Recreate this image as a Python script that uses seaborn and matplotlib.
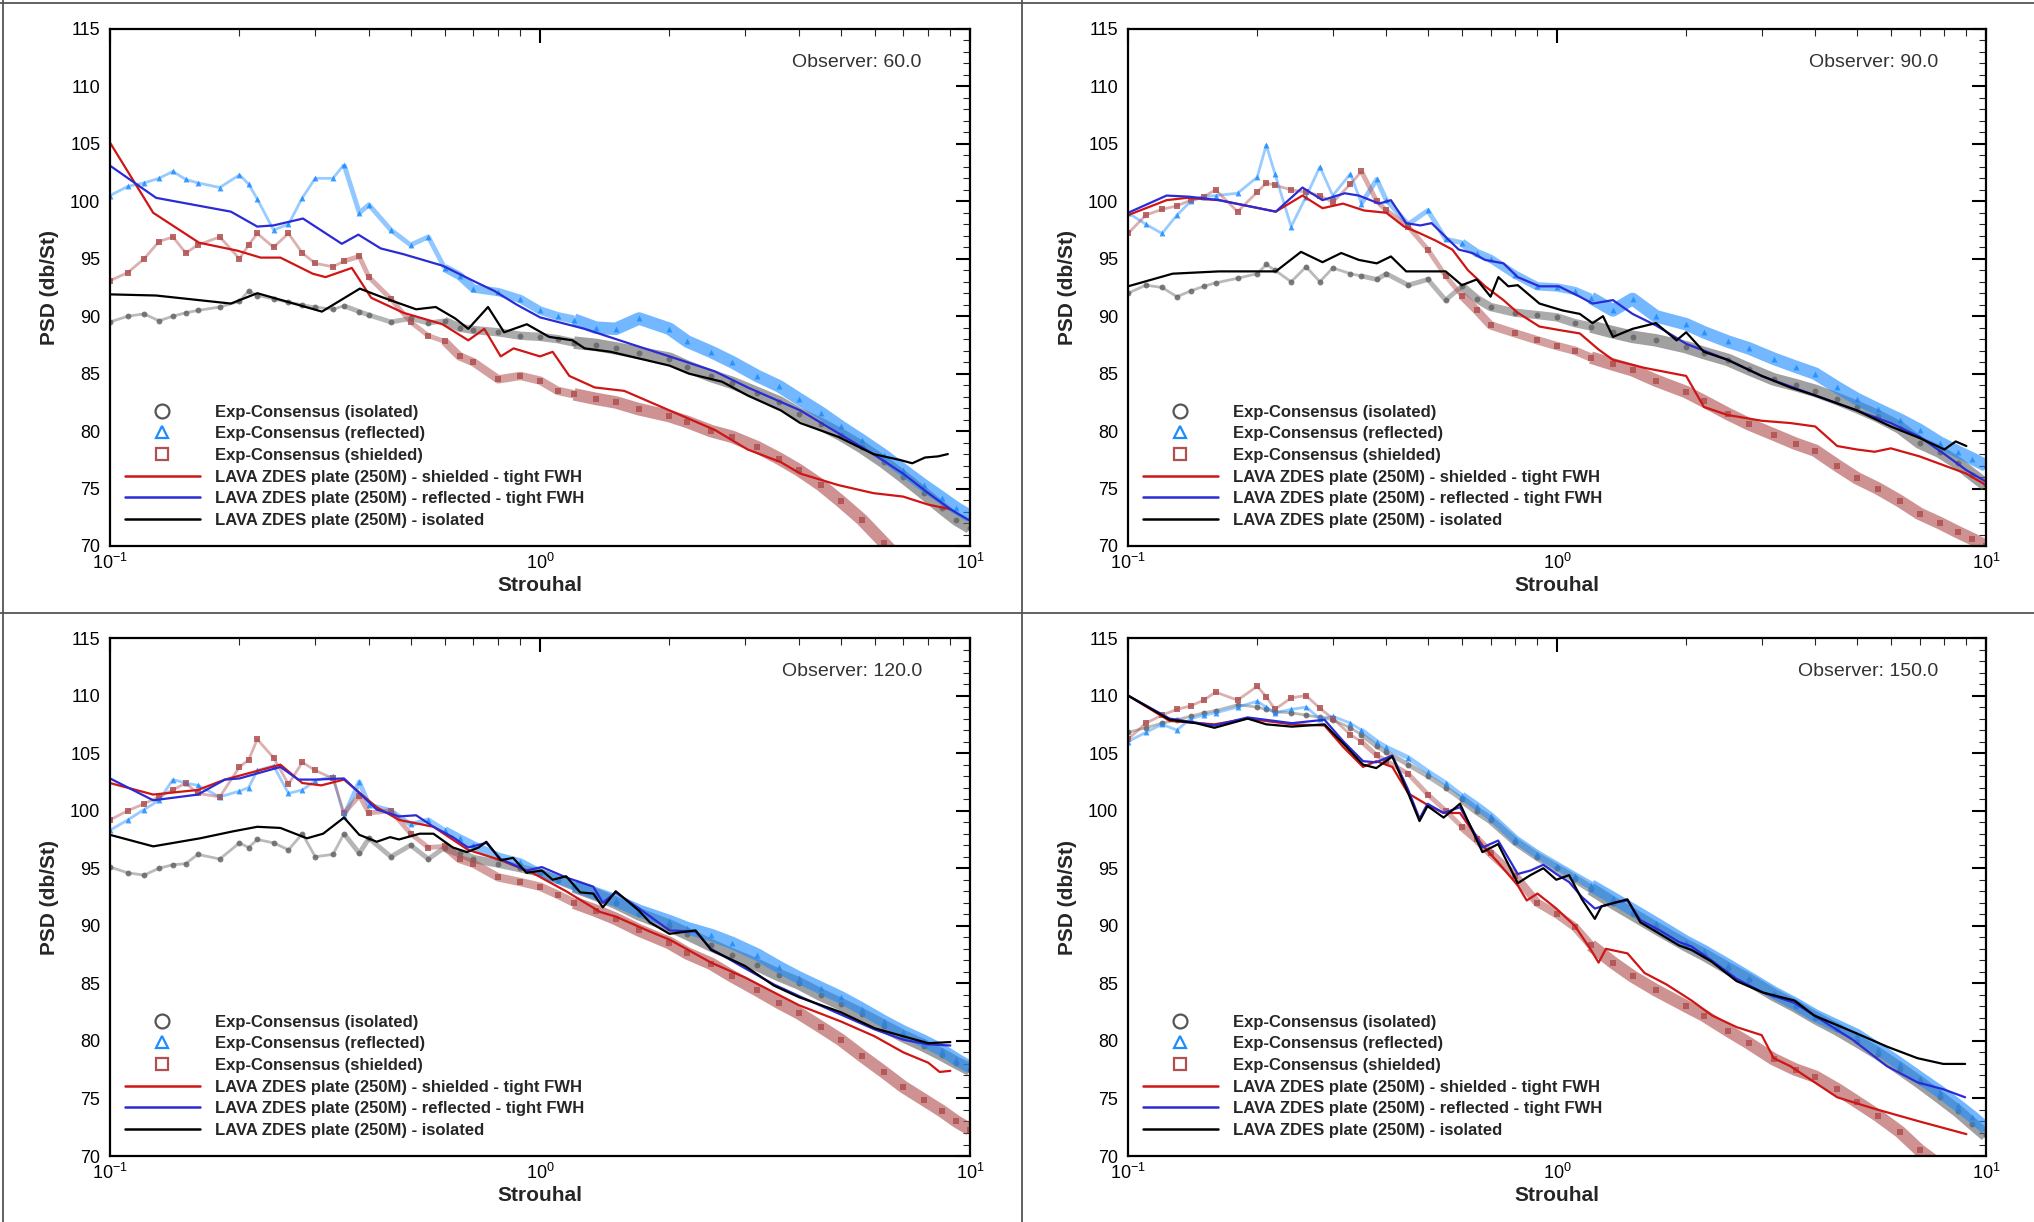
import matplotlib
matplotlib.use("Agg")
import matplotlib.pyplot as plt
import matplotlib.ticker as mticker
from matplotlib.lines import Line2D
import seaborn as sns

# -----------------------------
# 1. Data
# -----------------------------
# common Strouhal grid for the experimental consensus curves
EXP_ST = [0.10, 0.11, 0.12, 0.13, 0.14, 0.15, 0.16, 0.18, 0.20, 0.21,
          0.22, 0.24, 0.26, 0.28, 0.30, 0.33, 0.35, 0.38, 0.40, 0.45,
          0.50, 0.55, 0.60, 0.65, 0.70, 0.80, 0.90, 1.0, 1.1, 1.2,
          1.35, 1.5, 1.7, 2.0, 2.2, 2.5, 2.8, 3.2, 3.6, 4.0,
          4.5, 5.0, 5.6, 6.3, 7.0, 7.8, 8.6, 9.3, 10.0]

# Observer 60
EXP60_ISO = [89.5, 90.0, 90.2, 89.6, 90.0, 90.3, 90.5, 90.8, 91.3, 92.2,
             91.8, 91.5, 91.2, 91.0, 90.8, 90.6, 90.9, 90.4, 90.1, 89.5,
             89.8, 89.4, 89.6, 89.0, 88.8, 88.6, 88.3, 88.2, 88.0, 87.7,
             87.5, 87.2, 86.8, 86.3, 85.6, 84.8, 84.2, 83.3, 82.5, 81.5,
             80.6, 79.7, 78.6, 77.3, 76.0, 74.6, 73.3, 72.3, 71.6]
EXP60_REF = [100.5, 101.3, 101.6, 102.0, 102.6, 101.9, 101.6, 101.2, 102.3, 101.5,
             100.2, 97.5, 98.0, 100.3, 102.0, 102.0, 103.2, 99.0, 99.7, 97.5,
             96.2, 96.9, 94.2, 93.5, 92.4, 92.1, 91.5, 90.5, 90.0, 89.7,
             89.0, 88.9, 89.8, 88.9, 87.8, 86.9, 86.0, 84.8, 83.9, 82.8,
             81.6, 80.4, 79.2, 77.9, 76.6, 75.3, 74.2, 73.3, 72.6]
EXP60_SHD = [93.1, 93.8, 95.0, 96.5, 96.9, 95.5, 96.2, 96.9, 95.0, 96.2,
             97.2, 96.0, 97.2, 95.5, 94.6, 94.3, 94.8, 95.2, 93.4, 91.5,
             89.5, 88.3, 87.8, 86.5, 86.0, 84.5, 84.8, 84.4, 83.5, 83.2,
             82.8, 82.5, 81.9, 81.3, 80.8, 80.0, 79.5, 78.6, 77.6, 76.6,
             75.3, 73.9, 72.3, 70.3, 68.5]
LAVA60_SHD_ST = [0.1, 0.126, 0.161, 0.198, 0.224, 0.249, 0.296, 0.317, 0.365, 0.405,
                 0.481, 0.593, 0.681, 0.742, 0.81, 0.868, 1.0, 1.07, 1.17, 1.34,
                 1.57, 2.0, 2.55, 3.04, 3.63, 4.03, 4.94, 5.96, 6.99, 8.0, 9.0]
LAVA60_SHD = [105.1, 99.0, 96.4, 95.7, 95.1, 95.1, 93.7, 93.4, 94.2, 91.6,
              90.3, 89.3, 87.9, 88.9, 86.5, 87.2, 86.5, 86.9, 84.8, 83.8,
              83.5, 81.8, 80.1, 78.4, 77.3, 76.3, 75.3, 74.6, 74.3, 73.6, 73.2]
LAVA60_REF_ST = [0.1, 0.128, 0.191, 0.22, 0.24, 0.281, 0.346, 0.378, 0.426, 0.481,
                 0.593, 0.706, 0.783, 0.883, 1.0, 1.27, 1.62, 2.0, 2.55, 3.04,
                 4.03, 5.0, 5.96, 6.99, 8.0, 9.0, 10.0]
LAVA60_REF = [103.1, 100.3, 99.1, 97.8, 97.9, 98.5, 96.3, 97.1, 95.9, 95.4,
              94.4, 93.0, 92.2, 91.0, 89.9, 88.9, 87.6, 86.5, 85.2, 83.8,
              81.8, 79.7, 78.0, 76.3, 74.6, 73.2, 72.2]
LAVA60_ISO_ST = [0.1, 0.128, 0.191, 0.22, 0.24, 0.311, 0.381, 0.433, 0.515, 0.572,
                 0.635, 0.681, 0.757, 0.825, 0.932, 1.05, 1.19, 1.27, 1.46, 2.0,
                 2.22, 2.65, 3.04, 3.63, 4.03, 4.94, 5.96, 6.85, 7.34, 7.86, 8.43, 8.88]
LAVA60_ISO = [91.9, 91.8, 91.1, 92.0, 91.6, 90.4, 92.4, 91.6, 90.6, 90.8,
              89.8, 88.9, 90.8, 88.6, 89.3, 88.2, 87.9, 87.2, 86.9, 85.7,
              85.0, 84.3, 83.1, 81.8, 80.7, 79.5, 78.0, 77.5, 77.2, 77.7, 77.8, 78.0]

# Observer 90
EXP90_ISO = [92.0, 92.7, 92.5, 91.7, 92.2, 92.6, 92.9, 93.3, 93.7, 94.5,
             94.0, 93.0, 94.3, 93.0, 94.2, 93.7, 93.5, 93.2, 93.7, 92.7,
             93.2, 91.4, 92.6, 91.5, 90.8, 90.3, 90.1, 89.9, 89.4, 89.1,
             88.6, 88.2, 87.9, 87.3, 86.8, 86.2, 85.4, 84.5, 84.0, 83.5,
             82.8, 82.1, 81.3, 80.3, 79.0, 78.2, 77.2, 76.2, 75.3]
EXP90_REF = [99.0, 98.0, 97.2, 98.8, 100.0, 100.4, 100.5, 100.7, 102.1, 104.9,
             102.4, 97.8, 100.4, 103.0, 100.5, 102.4, 99.8, 101.9, 100.1, 98.0,
             99.2, 96.7, 96.4, 95.5, 95.0, 93.6, 92.6, 92.5, 92.2, 91.6,
             90.5, 91.5, 90.0, 89.3, 88.6, 87.8, 87.2, 86.3, 85.6, 85.0,
             83.8, 82.8, 81.9, 81.0, 80.1, 79.0, 78.2, 77.6, 77.0]
EXP90_SHD = [97.2, 98.8, 99.3, 99.6, 100.1, 100.4, 101.0, 99.1, 100.8, 101.6,
             101.4, 101.0, 100.8, 100.5, 99.9, 101.5, 102.6, 100.0, 99.2, 97.8,
             95.8, 93.5, 91.8, 90.5, 89.2, 88.5, 87.9, 87.4, 87.0, 86.4,
             85.8, 85.3, 84.4, 83.4, 82.6, 81.5, 80.6, 79.7, 78.9, 78.3,
             77.0, 75.9, 75.0, 73.9, 72.8, 72.0, 71.2, 70.6, 70.0]
LAVA90_SHD_ST = [0.1, 0.123, 0.137, 0.163, 0.221, 0.255, 0.284, 0.317, 0.355, 0.4,
                 0.44, 0.48, 0.52, 0.57, 0.62, 0.68, 0.75, 0.81, 0.91, 1.01,
                 1.13, 1.25, 1.35, 1.6, 2.0, 2.2, 2.5, 3.0, 3.5, 4.0,
                 4.5, 5.0, 5.5, 6.0, 7.0, 8.0, 9.0, 10.0]
LAVA90_SHD = [98.8, 100.1, 100.3, 100.1, 99.1, 100.5, 99.4, 99.8, 99.2, 99.0,
              97.8, 97.2, 96.6, 95.8, 94.0, 92.6, 91.4, 90.3, 89.1, 88.8,
              88.5, 87.1, 86.2, 85.5, 84.8, 82.1, 81.4, 80.9, 80.7, 80.4,
              78.7, 78.4, 78.2, 78.5, 77.8, 77.0, 76.3, 75.3]
LAVA90_REF_ST = [0.1, 0.123, 0.139, 0.163, 0.221, 0.255, 0.284, 0.32, 0.345, 0.385,
                 0.41, 0.445, 0.48, 0.51, 0.55, 0.59, 0.635, 0.68, 0.75, 0.81,
                 0.91, 1.01, 1.13, 1.21, 1.35, 1.5, 1.7, 2.0, 2.5, 3.0,
                 4.0, 5.0, 6.0, 7.0, 8.0, 9.0, 10.0]
LAVA90_REF = [99.0, 100.5, 100.4, 100.1, 99.1, 101.2, 100.1, 100.7, 100.5, 99.8,
              100.1, 98.1, 97.9, 98.1, 96.9, 95.8, 95.5, 94.9, 94.6, 93.4,
              92.6, 92.6, 91.7, 91.1, 91.4, 90.2, 89.2, 87.6, 86.2, 84.8,
              83.1, 81.8, 80.7, 79.5, 78.0, 76.6, 75.6]
LAVA90_ISO_ST = [0.1, 0.127, 0.163, 0.221, 0.253, 0.284, 0.314, 0.345, 0.38, 0.41,
                 0.445, 0.55, 0.60, 0.65, 0.70, 0.73, 0.77, 0.81, 0.91, 1.03,
                 1.13, 1.21, 1.28, 1.35, 1.5, 1.7, 1.9, 2.0, 2.2, 2.5,
                 3.0, 3.5, 4.0, 5.0, 6.0, 7.0, 8.0, 8.5, 9.0]
LAVA90_ISO = [92.6, 93.7, 93.9, 93.9, 95.6, 94.7, 95.5, 94.9, 94.6, 95.2,
              93.9, 93.9, 92.7, 93.2, 91.7, 93.4, 92.6, 92.7, 91.1, 90.5,
              90.2, 89.4, 90.0, 88.2, 88.9, 89.4, 87.9, 88.6, 86.9, 86.2,
              84.8, 83.8, 83.1, 81.8, 80.4, 79.4, 78.4, 79.1, 78.7]

# Observer 120
EXP120_ISO = [95.1, 94.6, 94.4, 95.0, 95.3, 95.4, 96.2, 95.8, 97.2, 96.8,
              97.5, 97.2, 96.6, 98.0, 96.0, 96.2, 98.0, 96.3, 97.6, 96.0,
              97.0, 95.8, 96.8, 96.3, 95.8, 95.4, 95.0, 94.6, 94.0, 93.4,
              92.7, 92.0, 91.0, 90.0, 89.3, 88.3, 87.5, 86.6, 85.7, 85.0,
              84.0, 83.2, 82.3, 81.3, 80.4, 79.6, 78.8, 78.1, 77.5]
EXP120_REF = [98.3, 99.2, 100.1, 100.9, 102.7, 102.4, 102.2, 101.2, 101.7, 102.0,
              103.5, 103.9, 101.5, 101.8, 102.6, 103.0, 99.5, 102.5, 100.5, 100.0,
              98.8, 99.2, 98.3, 97.6, 97.0, 96.0, 95.5, 94.6, 94.0, 93.5,
              92.8, 92.2, 91.3, 90.4, 89.8, 89.2, 88.5, 87.5, 86.4, 85.5,
              84.6, 83.8, 82.8, 81.7, 80.8, 80.0, 79.2, 78.4, 77.7]
EXP120_SHD = [99.2, 100.0, 100.6, 101.2, 101.8, 102.4, 101.5, 101.2, 103.8, 104.4,
              106.2, 104.6, 102.3, 104.2, 103.5, 102.8, 99.8, 101.3, 99.8, 100.0,
              98.0, 96.8, 96.9, 95.8, 95.4, 94.2, 93.8, 93.4, 92.7, 92.0,
              91.3, 90.6, 89.6, 88.5, 87.6, 86.7, 85.6, 84.4, 83.3, 82.4,
              81.2, 80.1, 78.7, 77.3, 76.0, 74.9, 73.9, 73.0, 72.3]
LAVA120_SHD_ST = [0.1, 0.126, 0.16, 0.185, 0.249, 0.28, 0.31, 0.35, 0.417, 0.47,
                  0.565, 0.68, 0.81, 0.96, 1.15, 1.38, 1.5, 1.8, 2.0, 2.5,
                  3.0, 4.0, 5.0, 6.0, 7.0, 8.0, 8.5, 9.0]
LAVA120_SHD = [102.4, 101.4, 101.8, 102.7, 104.0, 102.4, 102.2, 102.7, 100.3, 99.2,
               98.6, 96.6, 95.7, 94.6, 93.0, 91.2, 90.8, 89.5, 88.8, 86.8,
               85.5, 83.1, 81.7, 80.4, 79.0, 78.1, 77.3, 77.4]
LAVA120_REF_ST = [0.1, 0.126, 0.16, 0.185, 0.2, 0.249, 0.274, 0.3, 0.35, 0.417,
                  0.47, 0.515, 0.565, 0.627, 0.68, 0.75, 0.81, 0.93, 1.01, 1.15,
                  1.33, 1.4, 1.5, 1.7, 2.0, 2.3, 2.5, 3.0, 3.5, 4.0,
                  5.0, 6.0, 7.0, 8.0, 9.0]
LAVA120_REF = [102.8, 100.9, 101.4, 102.7, 102.8, 103.8, 102.7, 102.7, 102.8, 100.1,
               99.5, 99.6, 98.6, 97.7, 96.8, 97.2, 95.8, 94.8, 95.1, 94.2,
               93.4, 92.0, 92.9, 91.5, 89.6, 89.5, 88.0, 86.3, 84.9, 83.9,
               82.3, 81.0, 80.1, 79.7, 79.6]
LAVA120_ISO_ST = [0.1, 0.126, 0.162, 0.193, 0.22, 0.249, 0.287, 0.313, 0.35, 0.38,
                  0.417, 0.448, 0.47, 0.525, 0.565, 0.627, 0.676, 0.72, 0.75, 0.81,
                  0.866, 0.93, 1.01, 1.07, 1.15, 1.24, 1.33, 1.4, 1.5, 1.7,
                  1.8, 2.0, 2.3, 2.5, 3.0, 3.5, 4.0, 5.0, 6.0, 7.0, 8.0, 9.0]
LAVA120_ISO = [97.9, 96.9, 97.6, 98.2, 98.6, 98.5, 97.6, 98.0, 99.4, 97.9,
               97.3, 97.7, 97.5, 98.0, 98.0, 96.8, 96.4, 96.8, 97.3, 95.7,
               95.9, 94.6, 94.8, 94.0, 94.3, 92.9, 92.8, 91.6, 93.0, 91.3,
               90.3, 89.3, 89.6, 87.9, 86.5, 84.8, 83.8, 82.5, 81.1, 80.4, 79.8, 79.9]

# Observer 150
EXP150_ISO = [106.8, 107.2, 107.6, 107.9, 108.2, 108.5, 108.7, 109.2, 109.0, 108.8,
              108.6, 108.5, 108.3, 108.1, 107.9, 107.2, 106.6, 105.6, 105.1, 104.0,
              103.0, 102.0, 101.0, 100.0, 99.2, 97.3, 96.0, 95.0, 94.1, 93.2,
              92.0, 91.0, 89.8, 88.3, 87.5, 86.3, 85.3, 84.0, 83.0, 82.0,
              81.0, 80.0, 78.9, 77.6, 76.4, 75.1, 73.9, 72.8, 71.8]
EXP150_REF = [106.0, 106.8, 107.5, 107.0, 108.0, 108.3, 108.5, 109.0, 109.5, 109.0,
              108.5, 108.8, 109.0, 108.0, 108.2, 107.6, 107.0, 106.0, 105.5, 104.6,
              103.4, 102.4, 101.3, 100.4, 99.5, 97.5, 96.2, 95.2, 94.3, 93.5,
              92.4, 91.4, 90.2, 88.6, 87.8, 86.6, 85.5, 84.2, 83.2, 82.2,
              81.3, 80.5, 79.3, 78.0, 76.8, 75.6, 74.4, 73.4, 72.4]
EXP150_SHD = [106.2, 107.6, 108.3, 108.8, 109.1, 109.6, 110.3, 109.6, 110.8, 109.9,
              108.8, 109.8, 110.0, 108.9, 108.0, 106.6, 106.0, 104.8, 104.3, 103.2,
              101.4, 100.0, 98.6, 97.5, 96.3, 94.3, 92.0, 91.0, 89.9, 88.3,
              86.8, 85.6, 84.4, 83.0, 82.2, 80.9, 79.8, 78.4, 77.5, 76.9,
              75.8, 74.7, 73.5, 72.1, 70.5, 69.2]
LAVA150_SHD_ST = [0.1, 0.125, 0.159, 0.19, 0.241, 0.287, 0.318, 0.353, 0.379, 0.413,
                  0.45, 0.499, 0.544, 0.594, 0.67, 0.729, 0.81, 0.85, 0.9, 0.996,
                  1.1, 1.2, 1.25, 1.3, 1.46, 1.6, 1.8, 2.06, 2.3, 2.62,
                  3.0, 3.2, 3.5, 4.5, 5.5, 7.0, 9.0]
LAVA150_SHD = [110.0, 107.8, 107.5, 108.0, 107.5, 107.4, 105.5, 103.8, 104.3, 103.8,
               101.5, 100.5, 99.8, 99.8, 97.0, 95.5, 93.5, 92.2, 92.8, 91.5,
               90.0, 87.9, 86.8, 88.0, 87.6, 85.9, 84.9, 83.5, 82.2, 81.2,
               80.5, 78.5, 77.8, 75.1, 74.1, 73.0, 71.9]
LAVA150_REF_ST = [0.1, 0.125, 0.159, 0.19, 0.241, 0.287, 0.318, 0.353, 0.379, 0.413,
                  0.45, 0.478, 0.499, 0.544, 0.594, 0.67, 0.729, 0.81, 0.867, 0.929,
                  0.996, 1.067, 1.143, 1.225, 1.361, 1.459, 1.564, 1.736, 1.923, 2.06,
                  2.29, 2.62, 3.02, 3.58, 3.98, 4.89, 5.88, 6.92, 7.95, 8.94]
LAVA150_REF = [110.0, 108.0, 107.4, 108.1, 107.6, 107.9, 106.0, 104.3, 104.2, 104.8,
               101.8, 99.3, 100.6, 99.8, 100.3, 96.8, 97.4, 94.5, 94.8, 95.3,
               94.5, 93.8, 92.5, 91.5, 92.0, 92.2, 90.5, 89.6, 88.6, 88.2,
               87.0, 85.4, 84.2, 83.3, 82.2, 80.1, 77.8, 76.4, 75.8, 75.1]
LAVA150_ISO_ST = [0.1, 0.125, 0.144, 0.159, 0.19, 0.21, 0.241, 0.287, 0.318, 0.353,
                  0.379, 0.413, 0.45, 0.478, 0.499, 0.544, 0.594, 0.67, 0.729, 0.81,
                  0.867, 0.929, 0.996, 1.067, 1.143, 1.225, 1.27, 1.361, 1.459, 1.564,
                  1.736, 1.923, 2.06, 2.29, 2.62, 3.02, 3.58, 3.98, 4.89, 5.88,
                  6.92, 7.95, 8.94]
LAVA150_ISO = [110.0, 107.9, 107.6, 107.2, 108.0, 107.5, 107.3, 107.5, 105.8, 104.0,
               103.7, 104.7, 101.5, 99.1, 100.4, 99.4, 100.6, 96.4, 97.1, 93.7,
               94.4, 95.0, 94.0, 94.4, 92.3, 90.6, 91.7, 92.0, 92.3, 90.3,
               89.3, 88.3, 87.9, 86.9, 85.2, 84.2, 83.5, 82.2, 80.8, 79.5,
               78.5, 78.0, 78.0]

LEGEND_LABELS = ["Exp-Consensus (isolated)",
                 "Exp-Consensus (reflected)",
                 "Exp-Consensus (shielded)",
                 "LAVA ZDES plate (250M) - shielded - tight FWH",
                 "LAVA ZDES plate (250M) - reflected - tight FWH",
                 "LAVA ZDES plate (250M) - isolated"]

# -----------------------------
# 2. Basic setup
# -----------------------------
sns.set_style("white")
plt.rcParams["font.family"] = ["Liberation Sans", "DejaVu Sans"]
plt.rcParams["mathtext.default"] = "regular"

C_EXP_ISO = "#666666"
C_EXP_REF = "#1c8cff"
C_EXP_SHD = "#b05050"
C_LAVA_SHD = "#d01515"
C_LAVA_REF = "#2b2bd6"
C_LAVA_ISO = "#000000"

# band width of the experimental symbols: (St from, St to, line width, alpha)
BAND_STYLE = [(0.0, 0.35, 2.0, 0.45),
              (0.35, 0.6, 3.5, 0.48),
              (0.6, 1.2, 6.0, 0.55),
              (1.2, 11.0, 9.0, 0.62)]


def draw_panel(ax, title, exp_iso, exp_ref, exp_shd,
               shd_st, shd, ref_st, ref, iso_st, iso):
    # experimental consensus: scattered symbols at low St, dense band at high St
    for vals, color, marker in [(exp_iso, C_EXP_ISO, "o"),
                                (exp_ref, C_EXP_REF, "^"),
                                (exp_shd, C_EXP_SHD, "s")]:
        st = EXP_ST[:len(vals)]
        for lo, hi, lw, alpha in BAND_STYLE:
            idx = [i for i, s in enumerate(st) if lo <= s <= hi]
            if len(idx) < 2:
                continue
            sns.lineplot(x=[st[i] for i in idx], y=[vals[i] for i in idx], ax=ax,
                         color=color, linewidth=lw, alpha=alpha,
                         estimator=None, sort=False, legend=False,
                         solid_capstyle="butt")
        sns.scatterplot(x=st, y=vals, ax=ax, color=color, marker=marker,
                        s=18, alpha=0.85, linewidth=0, legend=False)

    # LAVA simulations
    for st, vals, color in [(shd_st, shd, C_LAVA_SHD),
                            (ref_st, ref, C_LAVA_REF),
                            (iso_st, iso, C_LAVA_ISO)]:
        sns.lineplot(x=st, y=vals, ax=ax, color=color, linewidth=1.6,
                     estimator=None, sort=False, legend=False)

    ax.set_xscale("log")
    ax.set_xlim(0.1, 10)
    ax.set_ylim(70, 115)
    ax.xaxis.set_major_locator(mticker.LogLocator(base=10, numticks=5))
    ax.xaxis.set_minor_locator(mticker.LogLocator(base=10, subs=range(2, 10), numticks=20))
    ax.xaxis.set_minor_formatter(mticker.NullFormatter())
    ax.yaxis.set_major_locator(mticker.MultipleLocator(5))
    ax.yaxis.set_minor_locator(mticker.MultipleLocator(1))

    ax.tick_params(which="major", direction="in", length=10, width=1.5,
                   top=True, right=True, labelsize=13, colors="black")
    ax.tick_params(which="minor", direction="in", length=5, width=0.8,
                   top=True, right=True)
    ax.tick_params(axis="x", which="major", pad=5)
    ax.tick_params(axis="y", which="major", pad=7)
    for sp in ax.spines.values():
        sp.set_linewidth(1.6)
        sp.set_color("black")

    ax.set_xlabel("Strouhal", fontsize=15, fontweight="bold", labelpad=2)
    ax.set_ylabel("PSD (db/St)", fontsize=15, fontweight="bold", labelpad=8)
    ax.text(0.944, 0.936, title, transform=ax.transAxes, ha="right",
            va="center", fontsize=14, color="#333333")

    handles = [
        Line2D([], [], ls="none", marker="o", ms=10, mfc="none", mec="#555555", mew=1.6),
        Line2D([], [], ls="none", marker="^", ms=9, mfc="none", mec=C_EXP_REF, mew=1.6),
        Line2D([], [], ls="none", marker="s", ms=8.5, mfc="none", mec=C_EXP_SHD, mew=1.6),
        Line2D([], [], color=C_LAVA_SHD, lw=1.8),
        Line2D([], [], color=C_LAVA_REF, lw=1.8),
        Line2D([], [], color=C_LAVA_ISO, lw=1.8),
    ]
    ax.legend(handles, LEGEND_LABELS, loc="lower left",
              bbox_to_anchor=(0.017, 0.035), frameon=False, borderpad=0,
              borderaxespad=0, handlelength=4.5, handletextpad=0.9,
              labelspacing=0.4, prop={"weight": "bold", "size": 12})


# -----------------------------
# 3. Figure with four observer panels
# -----------------------------
fig = plt.figure(figsize=(20.34, 12.22), dpi=100)

ax60 = fig.add_axes([0.0541, 0.5532, 0.4228, 0.4231])
ax90 = fig.add_axes([0.5546, 0.5532, 0.4218, 0.4231])
ax120 = fig.add_axes([0.0541, 0.0540, 0.4228, 0.4239])
ax150 = fig.add_axes([0.5546, 0.0540, 0.4218, 0.4239])

draw_panel(ax60, "Observer: 60.0", EXP60_ISO, EXP60_REF, EXP60_SHD,
           LAVA60_SHD_ST, LAVA60_SHD, LAVA60_REF_ST, LAVA60_REF, LAVA60_ISO_ST, LAVA60_ISO)
draw_panel(ax90, "Observer: 90.0", EXP90_ISO, EXP90_REF, EXP90_SHD,
           LAVA90_SHD_ST, LAVA90_SHD, LAVA90_REF_ST, LAVA90_REF, LAVA90_ISO_ST, LAVA90_ISO)
draw_panel(ax120, "Observer: 120.0", EXP120_ISO, EXP120_REF, EXP120_SHD,
           LAVA120_SHD_ST, LAVA120_SHD, LAVA120_REF_ST, LAVA120_REF, LAVA120_ISO_ST, LAVA120_ISO)
draw_panel(ax150, "Observer: 150.0", EXP150_ISO, EXP150_REF, EXP150_SHD,
           LAVA150_SHD_ST, LAVA150_SHD, LAVA150_REF_ST, LAVA150_REF, LAVA150_ISO_ST, LAVA150_ISO)

# thin frame lines separating the four panels
frame_kw = dict(transform=fig.transFigure, color="#555555", lw=1.3)
fig.add_artist(Line2D([0.5025, 0.5025], [0, 1], **frame_kw))
fig.add_artist(Line2D([0, 1], [0.4980, 0.4980], **frame_kw))
fig.add_artist(Line2D([0, 1], [0.9975, 0.9975], **frame_kw))
fig.add_artist(Line2D([0.0015, 0.0015], [0, 1], **frame_kw))

fig.savefig("out.png", dpi=100)
